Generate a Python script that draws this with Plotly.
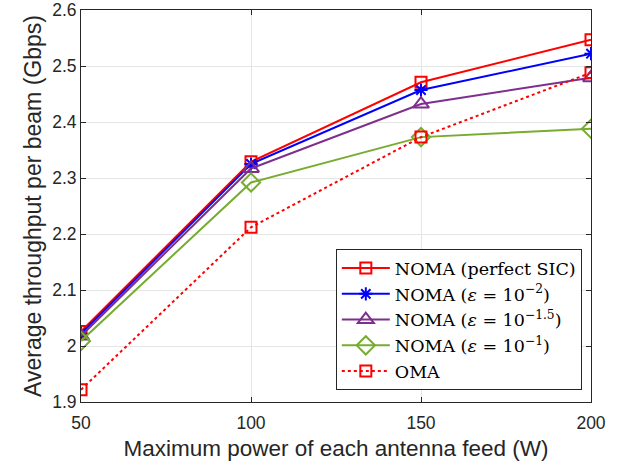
import plotly.graph_objects as go

power_w = [50, 100, 150, 200]
noma_perfect = [2.026, 2.329, 2.471, 2.547]
noma_eps_2 = [2.022, 2.325, 2.457, 2.522]
noma_eps_15 = [2.018, 2.317, 2.432, 2.479]
noma_eps_1 = [2.009, 2.292, 2.373, 2.388]
oma = [1.922, 2.212, 2.373, 2.488]

x_ticks = [50, 100, 150, 200]
y_ticks = [1.9, 2.0, 2.1, 2.2, 2.3, 2.4, 2.5, 2.6]
y_tick_labels = ["1.9", "2", "2.1", "2.2", "2.3", "2.4", "2.5", "2.6"]

series = [
    ("NOMA (perfect SIC)", noma_perfect, "#FF0000", "square-open", "solid", 11),
    ("NOMA (<i>ε</i> = 10<sup>−2</sup>)", noma_eps_2, "#0000FF", "asterisk-open", "solid", 11),
    ("NOMA (<i>ε</i> = 10<sup>−1.5</sup>)", noma_eps_15, "#7E2F8E", "triangle-up-open", "solid", 14),
    ("NOMA (<i>ε</i> = 10<sup>−1</sup>)", noma_eps_1, "#77AC30", "diamond-open", "solid", 14),
    ("OMA", oma, "#FF0000", "square-open", "dot", 11),
]

fig = go.Figure()
for name, vals, color, sym, dash, msize in series:
    fig.add_trace(go.Scatter(
        x=power_w, y=vals, name=name, mode="lines+markers",
        line=dict(color=color, width=2, dash=dash),
        marker=dict(symbol=sym, size=msize, color=color, line=dict(color=color, width=2)),
    ))

axis_common = dict(
    showline=True, mirror="ticks", linecolor="#262626", linewidth=1,
    ticks="inside", ticklen=5, tickcolor="#262626",
    showgrid=True, gridcolor="#E5E5E5", gridwidth=1, zeroline=False,
    ticklabeloverflow="allow",
    tickfont=dict(family="Liberation Sans, Arial", size=17.5, color="#262626"),
)

fig.update_xaxes(range=[50, 200], tickvals=x_ticks, ticklabelstandoff=5,
                 title=dict(text="Maximum power of each antenna feed (W)",
                            font=dict(family="Liberation Sans, Arial", size=22.5, color="#262626"),
                            standoff=8),
                 **axis_common)
fig.update_yaxes(range=[1.9, 2.60001], tickvals=y_ticks, ticktext=y_tick_labels,
                 title=dict(text="Average throughput per beam (Gbps)",
                            font=dict(family="Liberation Sans, Arial", size=23, color="#262626"),
                            standoff=4),
                 **axis_common)

fig.update_layout(
    width=632, height=470,
    margin=dict(l=81, r=41, t=10, b=68, autoexpand=False),
    plot_bgcolor="white", paper_bgcolor="white",
    legend=dict(
        x=0.982, y=0.03, xanchor="right", yanchor="bottom",
        bgcolor="white", bordercolor="#262626", borderwidth=1,
        font=dict(family="DejaVu Serif, serif", size=17.5, color="black"),
        itemwidth=48, tracegroupgap=0,
    ),
    showlegend=True,
)

fig.write_html("out.html", config={"displayModeBar": False},
               post_script="document.body.style.margin='0';document.body.style.padding='0';")
